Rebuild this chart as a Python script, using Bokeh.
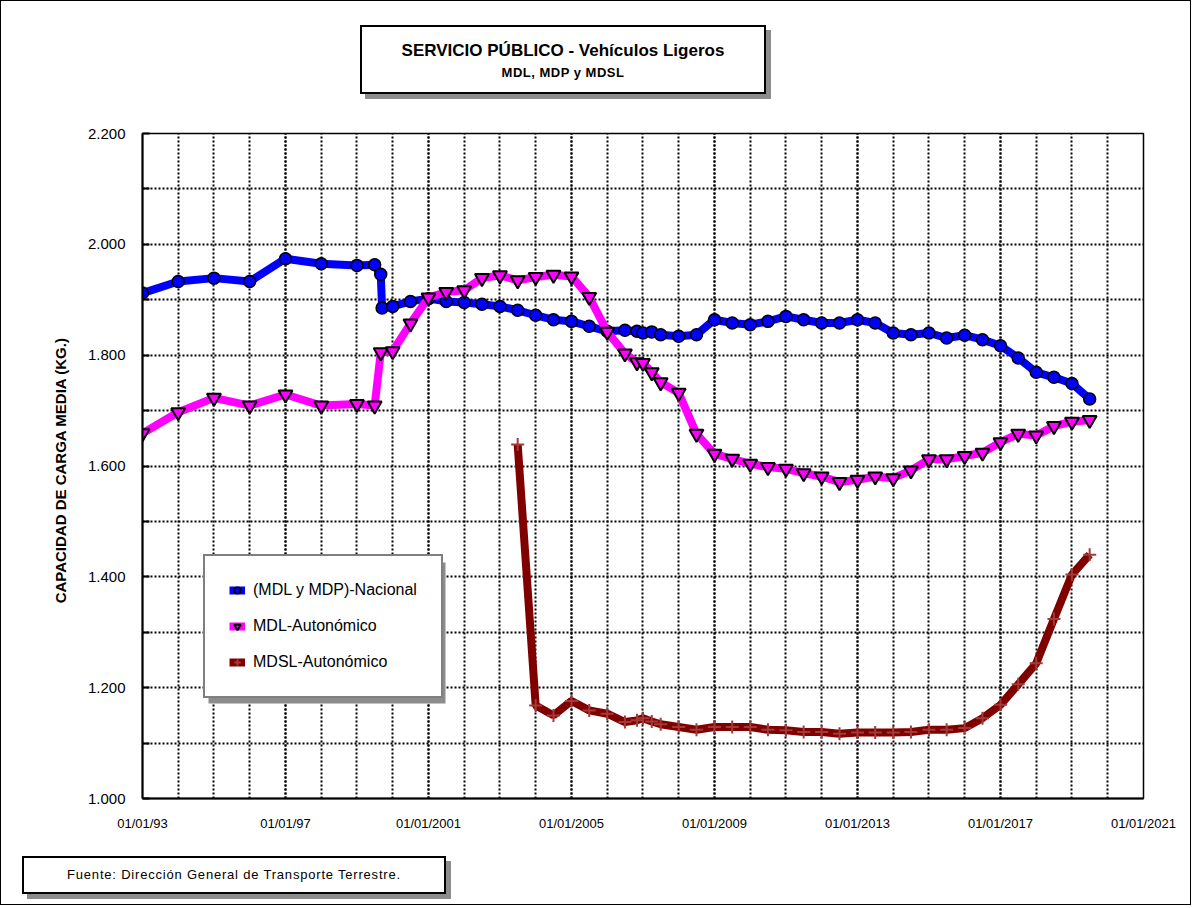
import pandas as pd
from bokeh.plotting import figure
from bokeh.layouts import column
from bokeh.models import (ColumnDataSource, FixedTicker, CustomJSTickFormatter, Range1d,
                          Legend, LegendItem, BoxAnnotation, Div)
from bokeh.embed import file_html
from bokeh.resources import INLINE

# ---------------- data ----------------
TITLE = "SERVICIO PÚBLICO - Vehículos Ligeros"
SUBTITLE = "MDL, MDP y MDSL"
Y_LABEL = "CAPACIDAD DE CARGA  MEDIA  (KG.)"
SOURCE_TEXT = "Fuente: Dirección General de Transporte Terrestre."

nac_label = "(MDL y MDP)-Nacional"
nac_dates = ["1993-01-01", "1994-01-01", "1995-01-01", "1996-01-01", "1997-01-01", "1998-01-01",
             "1999-01-01", "1999-07-01", "1999-09-01", "1999-09-15", "2000-01-01", "2000-07-01",
             "2001-01-01", "2001-07-01", "2002-01-01", "2002-07-01", "2003-01-01", "2003-07-01",
             "2004-01-01", "2004-07-01", "2005-01-01", "2005-07-01", "2006-01-01", "2006-07-01",
             "2006-11-01", "2007-01-01", "2007-04-01", "2007-07-01", "2008-01-01", "2008-07-01",
             "2009-01-01", "2009-07-01", "2010-01-01", "2010-07-01", "2011-01-01", "2011-07-01",
             "2012-01-01", "2012-07-01", "2013-01-01", "2013-07-01", "2014-01-01", "2014-07-01",
             "2015-01-01", "2015-07-01", "2016-01-01", "2016-07-01", "2017-01-01", "2017-07-01",
             "2018-01-01", "2018-07-01", "2019-01-01", "2019-07-01"]
nac_values = [1912, 1933, 1939, 1933, 1974, 1965,
              1962, 1963, 1946, 1885, 1888, 1897,
              1902, 1897, 1895, 1892, 1888, 1881,
              1872, 1864, 1861, 1852, 1843, 1845,
              1843, 1840, 1842, 1837, 1834, 1837,
              1864, 1858, 1855, 1861, 1870, 1864,
              1858, 1858, 1864, 1858, 1840, 1837,
              1840, 1831, 1836, 1828, 1817, 1795,
              1769, 1760, 1749, 1721]

mdl_label = "MDL-Autonómico"
mdl_dates = ["1993-01-01", "1994-01-01", "1995-01-01", "1996-01-01", "1997-01-01", "1998-01-01",
             "1999-01-01", "1999-07-01", "1999-09-01", "2000-01-01", "2000-07-01",
             "2001-01-01", "2001-07-01", "2002-01-01", "2002-07-01", "2003-01-01", "2003-07-01",
             "2004-01-01", "2004-07-01", "2005-01-01", "2005-07-01", "2006-01-01", "2006-07-01",
             "2006-11-01", "2007-01-01", "2007-04-01", "2007-07-01", "2008-01-01", "2008-07-01",
             "2009-01-01", "2009-07-01", "2010-01-01", "2010-07-01", "2011-01-01", "2011-07-01",
             "2012-01-01", "2012-07-01", "2013-01-01", "2013-07-01", "2014-01-01", "2014-07-01",
             "2015-01-01", "2015-07-01", "2016-01-01", "2016-07-01", "2017-01-01", "2017-07-01",
             "2018-01-01", "2018-07-01", "2019-01-01", "2019-07-01"]
mdl_values = [1659, 1697, 1723, 1709, 1729, 1709,
              1712, 1709, 1805, 1807, 1857,
              1904, 1914, 1917, 1939, 1944, 1935,
              1941, 1945, 1942, 1905, 1842, 1803,
              1787, 1786, 1769, 1751, 1732, 1658,
              1622, 1613, 1604, 1598, 1595, 1587,
              1581, 1571, 1575, 1581, 1578, 1592,
              1612, 1612, 1618, 1624, 1643, 1658,
              1655, 1672, 1680, 1683]

mdsl_label = "MDSL-Autonómico"
mdsl_dates = ["2003-07-01", "2004-01-01", "2004-07-01", "2005-01-01", "2005-07-01", "2006-01-01",
              "2006-07-01", "2006-11-01", "2007-01-01", "2007-04-01", "2007-07-01", "2008-01-01",
              "2008-07-01", "2009-01-01", "2009-07-01", "2010-01-01", "2010-07-01", "2011-01-01",
              "2011-07-01", "2012-01-01", "2012-07-01", "2013-01-01", "2013-07-01", "2014-01-01",
              "2014-07-01", "2015-01-01", "2015-07-01", "2016-01-01", "2016-07-01", "2017-01-01",
              "2017-07-01", "2018-01-01", "2018-07-01", "2019-01-01", "2019-07-01"]
mdsl_values = [1639, 1168, 1150, 1176, 1159, 1153,
               1138, 1141, 1145, 1139, 1134, 1129,
               1124, 1129, 1129, 1129, 1124, 1123,
               1120, 1120, 1117, 1119, 1119, 1119,
               1120, 1124, 1124, 1127, 1145, 1169,
               1206, 1244, 1324, 1404, 1440]

x_tick_dates = ["1993-01-01", "1997-01-01", "2001-01-01", "2005-01-01",
                "2009-01-01", "2013-01-01", "2017-01-01", "2021-01-01"]
x_grid_years = list(range(1993, 2022))
y_major_ticks = [1000, 1200, 1400, 1600, 1800, 2000, 2200]
y_minor_ticks = [1100, 1300, 1500, 1700, 1900, 2100]

# ---------------- layout constants ----------------
W = 1189             # inner width (1px margin each side for the page frame)
TOP_H = 110          # title strip height
FIG_H = 728          # figure height
BOT_H = 67           # source strip height
FONT = "Liberation Sans"
MARGIN = (0, 1, 0, 1)


def ms(d):
    return pd.Timestamp(d).value // 10**6


# ---------------- title strip ----------------
title_div = Div(width=W, height=TOP_H, margin=MARGIN, text=f"""
<div style="margin:0; padding-top:25px; padding-left:359px;">
<div style="width:406px; height:69px; box-sizing:border-box; border:2px solid black;
 box-shadow:5px 5px 0 #8c8c8c; background:white; text-align:center; color:black;
 font-family:'Liberation Sans', Arial, sans-serif;">
<div style="font-weight:bold; font-size:17px; line-height:20px; padding-top:14px;">{TITLE}</div>
<div style="font-weight:bold; font-size:13px; line-height:16px; margin-top:4px; letter-spacing:0.5px;">{SUBTITLE}</div>
</div></div>""")

# ---------------- figure ----------------
p = figure(width=W, height=FIG_H, x_axis_type="datetime", output_backend="svg",
           toolbar_location=None, margin=MARGIN,
           x_range=Range1d(pd.Timestamp("1993-01-01"), pd.Timestamp("2021-01-01")),
           y_range=Range1d(1000, 2200),
           min_border_left=141, min_border_right=W + 1 - 1143, min_border_top=23,
           min_border_bottom=FIG_H - 23 - 665)
p.background_fill_color = "white"
p.border_fill_color = "white"
p.outline_line_color = "black"
p.outline_line_width = 1.5

xt = FixedTicker(ticks=[ms(d) for d in x_tick_dates],
                 minor_ticks=[ms(f"{y}-01-01") for y in x_grid_years])
yt = FixedTicker(ticks=y_major_ticks, minor_ticks=y_minor_ticks)
p.xaxis.ticker = xt
p.yaxis.ticker = yt
p.xgrid.ticker = xt
p.ygrid.ticker = yt

p.xaxis.formatter = CustomJSTickFormatter(code="""
const d = new Date(tick); const y = d.getUTCFullYear();
return "01/01/" + (y < 2000 ? String(y).slice(2) : String(y));
""")
p.yaxis.formatter = CustomJSTickFormatter(code="return (tick/1000).toFixed(3);")

for g in (p.xgrid, p.ygrid):
    g.grid_line_color = "black"
    g.grid_line_dash = "2 2"
    g.grid_line_width = 2
    g.minor_grid_line_color = "black"
    g.minor_grid_line_dash = "2 2"
    g.minor_grid_line_width = 2

for ax in (p.xaxis, p.yaxis):
    ax.axis_line_color = "black"
    ax.axis_line_width = 2
    ax.major_tick_out = 0
    ax.minor_tick_out = 0
    ax.major_label_text_font = FONT
    ax.major_label_text_color = "black"

p.xaxis.major_tick_in = 0
p.xaxis.minor_tick_in = 0
p.xaxis.major_label_standoff = 17
p.xaxis.major_label_text_font_size = "13px"
p.yaxis.major_label_text_font_size = "15px"
p.yaxis.major_tick_in = 7
p.yaxis.minor_tick_in = 7
p.yaxis.major_tick_line_width = 2
p.yaxis.minor_tick_line_width = 2
p.yaxis.major_label_standoff = 17
p.yaxis.axis_label = Y_LABEL
p.yaxis.axis_label_text_font = FONT
p.yaxis.axis_label_text_font_style = "bold"
p.yaxis.axis_label_text_font_size = "15px"
p.yaxis.axis_label_text_color = "black"
p.yaxis.axis_label_standoff = 16

src_nac = ColumnDataSource(dict(x=pd.to_datetime(nac_dates), y=nac_values))
src_mdl = ColumnDataSource(dict(x=pd.to_datetime(mdl_dates), y=mdl_values))
src_mdsl = ColumnDataSource(dict(x=pd.to_datetime(mdsl_dates), y=mdsl_values))

l1 = p.line("x", "y", source=src_nac, line_color="#0000ff", line_width=8)
m1 = p.scatter("x", "y", source=src_nac, marker="circle", size=12,
               fill_color="#0000ff", line_color="black", line_width=1.5)
l2 = p.line("x", "y", source=src_mdl, line_color="#ff00ff", line_width=8)
m2 = p.scatter("x", "y", source=src_mdl, marker="inverted_triangle", size=14,
               fill_color="#ff00ff", line_color="black", line_width=2)
l3 = p.line("x", "y", source=src_mdsl, line_color="#800000", line_width=8)
m3 = p.scatter("x", "y", source=src_mdsl, marker="cross", size=13,
               line_color="#a33a3a", line_width=2)

# legend shadow (canvas units: origin top-left of this figure)
p.add_layout(BoxAnnotation(left=208 - 1, right=445 - 1, top=562 - TOP_H, bottom=703 - TOP_H,
                           left_units="canvas", right_units="canvas",
                           top_units="canvas", bottom_units="canvas",
                           fill_color="#8c8c8c", fill_alpha=1, line_alpha=0))

legend = Legend(items=[LegendItem(label=nac_label, renderers=[l1, m1]),
                       LegendItem(label=mdl_label, renderers=[l2, m2]),
                       LegendItem(label=mdsl_label, renderers=[l3, m3])],
                location=(61, 100))
legend.padding = 24
legend.spacing = 16
legend.glyph_height = 20
legend.glyph_width = 16
legend.label_height = 20
legend.label_standoff = 8
legend.label_text_font = FONT
legend.label_text_font_size = "16px"
legend.label_text_color = "black"
legend.border_line_color = "black"
legend.border_line_width = 2
legend.background_fill_color = "white"
legend.background_fill_alpha = 1
legend.margin = 0
p.add_layout(legend)

# ---------------- source strip ----------------
src_top = 856 - (TOP_H + FIG_H)
source_div = Div(width=W, height=BOT_H, margin=MARGIN, text=f"""
<div style="margin:0; padding-top:{src_top}px; padding-left:21px;">
<div style="width:424px; height:38px; box-sizing:border-box; border:2px solid black;
 box-shadow:5px 5px 0 #8c8c8c; background:white; text-align:center; color:black;
 font-family:'Liberation Sans', Arial, sans-serif; font-size:13px; line-height:34px;
 letter-spacing:0.8px;">{SOURCE_TEXT}</div></div>""")

page = column(title_div, p, source_div, spacing=0,
              styles={"outline": "1px solid black", "outline-offset": "-1px"})

open("out.html", "w").write(file_html(page, INLINE))
